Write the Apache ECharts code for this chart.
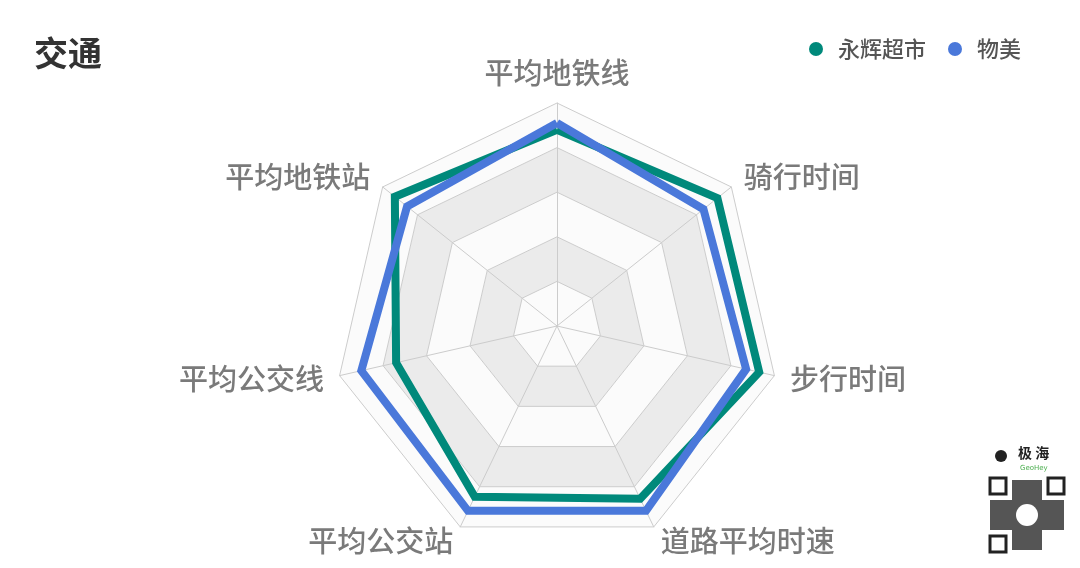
<!DOCTYPE html>
<html><head><meta charset="utf-8">
<script src="https://cdn.jsdelivr.net/npm/echarts@6/dist/echarts.min.js"></script>
<style>html,body{margin:0;padding:0;background:#fff}#c{width:1080px;height:568px}</style>
</head><body><div id="c"></div>
<script>
// indicator order (counter-clockwise from top, as ECharts radar draws)
const indicators = ['平均地铁线', '平均地铁站', '平均公交线', '平均公交站', '道路平均时速', '步行时间', '骑行时间'];
const maxValue = 100;
const yonghui = [88, 93, 74, 85, 86, 93, 92];
const wumei = [91, 86, 90, 92, 92, 87, 84];
const seriesNames = ['永辉超市', '物美'];
const colors = ['#00897b', '#4a78da'];

const chart = echarts.init(document.getElementById('c'));
chart.setOption({
  animation: false,
  title: { text: '交通', left: 29, top: 31, textStyle: { fontSize: 34, fontWeight: 'bold', color: '#333', fontFamily: 'Noto Sans CJK SC' } },
  legend: {
    right: 54, top: 33, icon: 'circle', itemWidth: 14, itemHeight: 14, itemGap: 22,
    textStyle: { fontSize: 22, color: '#555', fontFamily: 'Noto Sans CJK SC', fontWeight: 500, padding: [0, 0, 0, 10] },
    data: seriesNames
  },
  color: colors,
  radar: {
    center: [557, 326], radius: 223, shape: 'polygon', splitNumber: 5, startAngle: 90,
    indicator: indicators.map(n => ({ name: n, max: maxValue })),
    axisName: { color: '#7a7a7a', fontSize: 29, fontWeight: 500, fontFamily: 'Noto Sans CJK SC' },
    nameGap: 16,
    axisLine: { lineStyle: { color: '#cccccc' } },
    splitLine: { lineStyle: { color: '#cccccc' } },
    splitArea: { areaStyle: { color: ['#fbfbfb', '#ebebeb', '#fbfbfb', '#ebebeb', '#fbfbfb'] } }
  },
  series: [{
    type: 'radar', symbol: 'none',
    lineStyle: { width: 8, join: 'miter' },
    data: [
      { name: seriesNames[0], value: yonghui, lineStyle: { color: colors[0], width: 8, join: 'miter' }, itemStyle: { color: colors[0] } },
      { name: seriesNames[1], value: wumei, lineStyle: { color: colors[1], width: 8, join: 'miter' }, itemStyle: { color: colors[1] } }
    ]
  }],
  graphic: [
    { type: 'text', left: 1018, top: 446, style: { text: '极 海', fontSize: 14, fontWeight: 'bold', fill: '#222', fontFamily: 'Noto Sans CJK SC' } },
    { type: 'text', left: 1020, top: 465, style: { text: 'GeoHey', fontSize: 7, fill: '#4caf50', fontFamily: 'DejaVu Sans' } },
    { type: 'circle', shape: { cx: 1001, cy: 456, r: 6 }, style: { fill: '#222' } },
    { type: 'rect', shape: { x: 990, y: 478, width: 16, height: 16 }, style: { fill: 'none', stroke: '#222', lineWidth: 3 } },
    { type: 'rect', shape: { x: 1048, y: 478, width: 16, height: 16 }, style: { fill: 'none', stroke: '#222', lineWidth: 3 } },
    { type: 'rect', shape: { x: 990, y: 536, width: 16, height: 16 }, style: { fill: 'none', stroke: '#222', lineWidth: 3 } },
    { type: 'rect', shape: { x: 1012, y: 480, width: 30, height: 70 }, style: { fill: '#555' } },
    { type: 'rect', shape: { x: 990, y: 500, width: 74, height: 30 }, style: { fill: '#555' } },
    { type: 'circle', shape: { cx: 1027, cy: 515, r: 11 }, style: { fill: '#fff' } }
  ]
});
</script></body></html>
